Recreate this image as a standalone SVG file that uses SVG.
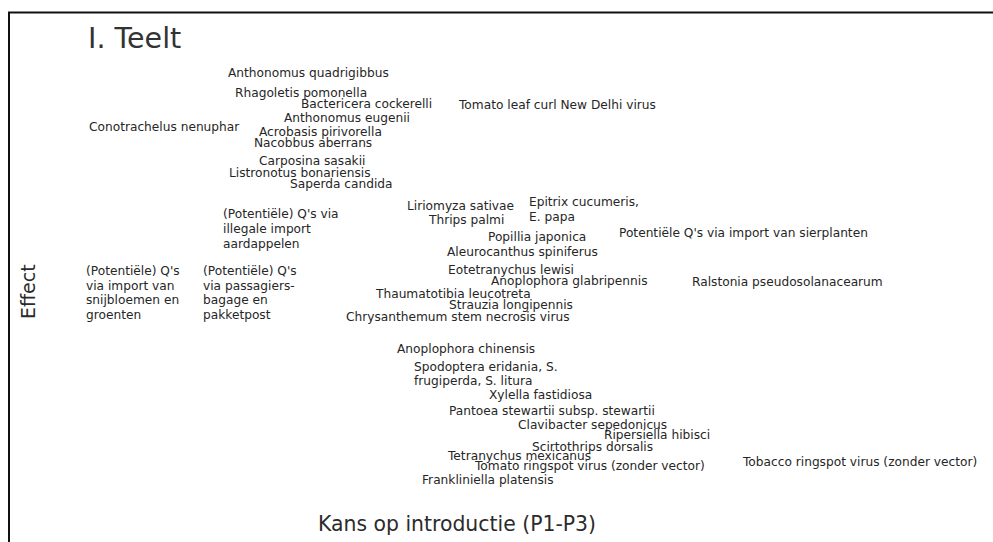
<svg xmlns="http://www.w3.org/2000/svg" width="993" height="542" viewBox="0 0 993 542">
  <style>
    text { font-family: "DejaVu Sans", Verdana, sans-serif; fill: #262626; }
    .lbl { font-size: 12.2px; }
    .title { font-size: 28.5px; fill: #333; }
    .axis { font-size: 19px; fill: #2b2b2b; }
    .frame { stroke: #111; stroke-width: 2; fill: none; }
  </style>

  <rect width="993" height="542" fill="#fff"/>

  <!-- frame: top and left edges only -->
  <path class="frame" d="M9,542 V12.5 H993"/>

  <text class="title" x="88" y="48">I. Teelt</text>

  <!-- axis titles -->
  <text class="axis" x="35" y="319" transform="rotate(-90 35 319)">Effect</text>
  <text class="axis" x="318" y="531" style="font-size:20.4px">Kans op introductie (P1-P3)</text>

  <!-- organisms and pathways placed by effect / probability of introduction -->
  <g id="labels" class="lbl">
    <g id="n-anthonomus-quadrigibbus"><text x="228" y="77">Anthonomus quadrigibbus</text></g>
    <g id="n-rhagoletis"><text x="235" y="97">Rhagoletis pomonella</text></g>
    <g id="n-bactericera"><text x="301" y="108">Bactericera cockerelli</text></g>
    <g id="n-tolcndv"><text x="459" y="109">Tomato leaf curl New Delhi virus</text></g>
    <g id="n-anthonomus-eugenii"><text x="284" y="122">Anthonomus eugenii</text></g>
    <g id="n-conotrachelus"><text x="89" y="131">Conotrachelus nenuphar</text></g>
    <g id="n-acrobasis"><text x="259" y="136">Acrobasis pirivorella</text></g>
    <g id="n-nacobbus"><text x="254" y="147">Nacobbus aberrans</text></g>
    <g id="n-carposina"><text x="259" y="165">Carposina sasakii</text></g>
    <g id="n-listronotus"><text x="229" y="177">Listronotus bonariensis</text></g>
    <g id="n-saperda"><text x="290" y="188">Saperda candida</text></g>

    <g id="n-aardappelen"><text x="223" y="218">(Potentiële) Q's via<tspan x="223" dy="15">illegale import</tspan><tspan x="223" dy="15">aardappelen</tspan></text></g>
    <g id="n-liriomyza"><text x="407" y="210">Liriomyza sativae</text></g>
    <g id="n-epitrix"><text x="529" y="206">Epitrix cucumeris,<tspan x="529" dy="14.5">E. papa</tspan></text></g>
    <g id="n-thrips"><text x="429" y="224">Thrips palmi</text></g>
    <g id="n-sierplanten"><text x="619" y="237">Potentiële Q's via import van sierplanten</text></g>
    <g id="n-popillia"><text x="488" y="241">Popillia japonica</text></g>
    <g id="n-aleurocanthus"><text x="447" y="256">Aleurocanthus spiniferus</text></g>

    <g id="n-snijbloemen"><text x="86" y="275">(Potentiële) Q's<tspan x="86" dy="14.5">via import van</tspan><tspan x="86" dy="14.5">snijbloemen en</tspan><tspan x="86" dy="14.5">groenten</tspan></text></g>
    <g id="n-passagiers"><text x="203" y="275">(Potentiële) Q's<tspan x="203" dy="14.5">via passagiers-</tspan><tspan x="203" dy="14.5">bagage en</tspan><tspan x="203" dy="14.5">pakketpost</tspan></text></g>
    <g id="n-eotetranychus"><text x="448" y="274">Eotetranychus lewisi</text></g>
    <g id="n-anoplophora-glabripennis"><text x="491" y="285">Anoplophora glabripennis</text></g>
    <g id="n-ralstonia"><text x="692" y="286">Ralstonia pseudosolanacearum</text></g>
    <g id="n-thaumatotibia"><text x="376" y="298">Thaumatotibia leucotreta</text></g>
    <g id="n-strauzia"><text x="449" y="309">Strauzia longipennis</text></g>
    <g id="n-csnv"><text x="346" y="321">Chrysanthemum stem necrosis virus</text></g>

    <g id="n-anoplophora-chinensis"><text x="397" y="353">Anoplophora chinensis</text></g>
    <g id="n-spodoptera"><text x="414" y="371">Spodoptera eridania, S.<tspan x="414" dy="14">frugiperda, S. litura</tspan></text></g>
    <g id="n-xylella"><text x="489" y="399">Xylella fastidiosa</text></g>
    <g id="n-pantoea"><text x="449" y="415">Pantoea stewartii subsp. stewartii</text></g>
    <g id="n-clavibacter"><text x="518" y="429">Clavibacter sepedonicus</text></g>
    <g id="n-ripersiella"><text x="604" y="439">Ripersiella hibisci</text></g>
    <g id="n-scirtothrips"><text x="532" y="451">Scirtothrips dorsalis</text></g>
    <g id="n-tetranychus"><text x="448" y="460">Tetranychus mexicanus</text></g>
    <g id="n-tobacco-ringspot"><text x="743" y="466">Tobacco ringspot virus (zonder vector)</text></g>
    <g id="n-tomato-ringspot"><text x="475" y="470">Tomato ringspot virus (zonder vector)</text></g>
    <g id="n-frankliniella"><text x="422" y="484">Frankliniella platensis</text></g>
  </g>
</svg>
